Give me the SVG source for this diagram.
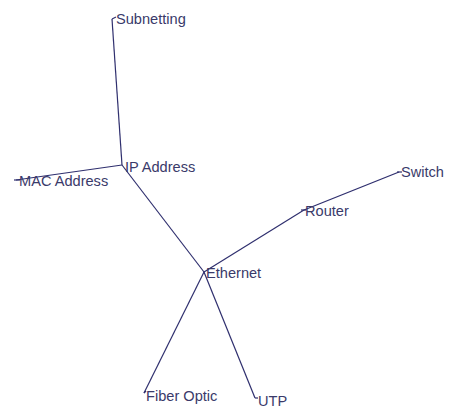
<svg xmlns="http://www.w3.org/2000/svg" width="450" height="409" viewBox="0 0 450 409">
<style>
.e{stroke:#2f2f6e;stroke-width:1.2;fill:none}
.t{font-family:"Liberation Sans",Arial,sans-serif;font-size:14.6px;fill:#3a3a6a}
.k{stroke:#2f2f6e;stroke-width:1.2}
</style>
<rect width="450" height="409" fill="#fff"/>
<g id="connectors">
<line class="e" x1="204" y1="272" x2="122" y2="165"/>
<line class="e" x1="122" y1="165" x2="112" y2="19"/>
<line class="e" x1="122" y1="165" x2="16" y2="180"/>
<line class="e" x1="204" y1="272" x2="304" y2="210"/>
<line class="e" x1="304" y1="210" x2="399" y2="172"/>
<line class="e" x1="204" y1="272" x2="144" y2="393"/>
<line class="e" x1="204" y1="272" x2="255" y2="398"/>
</g>
<g id="subnetting"><line class="k" x1="112" y1="19" x2="116" y2="17"/><text class="t" x="116" y="24">Subnetting</text></g>
<g id="ip"><text class="t" x="125" y="172">IP Address</text></g>
<g id="mac"><line class="k" x1="14" y1="180" x2="20" y2="180"/><text class="t" x="19" y="186">MAC Address</text></g>
<g id="ethernet"><text class="t" x="206" y="278">Ethernet</text></g>
<g id="router"><line class="k" x1="301" y1="210" x2="306" y2="210"/><text class="t" x="305" y="216">Router</text></g>
<g id="switch"><line class="k" x1="397" y1="172" x2="402" y2="172"/><text class="t" x="401" y="177">Switch</text></g>
<g id="fiber"><line class="k" x1="144" y1="393" x2="146" y2="391"/><text class="t" x="146" y="401">Fiber Optic</text></g>
<g id="utp"><line class="k" x1="255" y1="398" x2="258" y2="398"/><text class="t" x="258" y="406">UTP</text></g>
</svg>
